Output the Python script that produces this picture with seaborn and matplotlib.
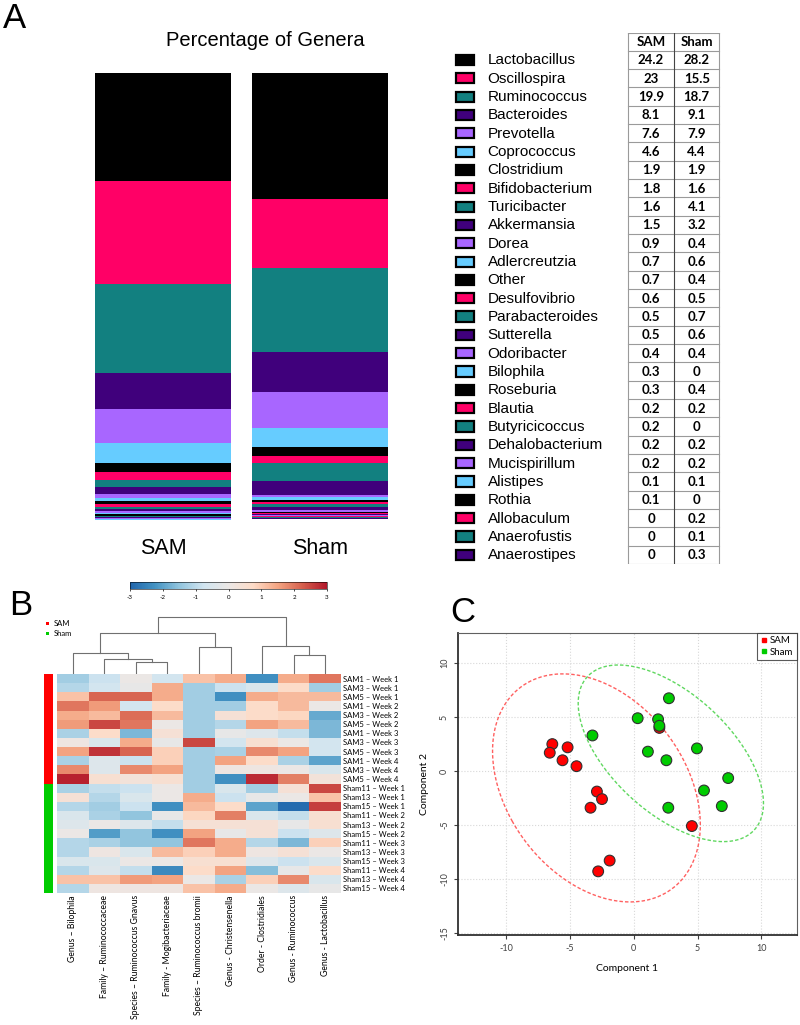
import numpy as np
import pandas as pd
import matplotlib
matplotlib.use("Agg")
import matplotlib.pyplot as plt
from matplotlib.patches import Rectangle
from matplotlib.colors import LinearSegmentedColormap
import seaborn as sns

# ---------------- Panel A data ----------------
genera = ["Lactobacillus", "Oscillospira", "Ruminococcus", "Bacteroides", "Prevotella",
          "Coprococcus", "Clostridium", "Bifidobacterium", "Turicibacter", "Akkermansia",
          "Dorea", "Adlercreutzia", "Other", "Desulfovibrio", "Parabacteroides",
          "Sutterella", "Odoribacter", "Bilophila", "Roseburia", "Blautia",
          "Butyricicoccus", "Dehalobacterium", "Mucispirillum", "Alistipes", "Rothia",
          "Allobaculum", "Anaerofustis", "Anaerostipes"]
sam_pct = [24.2, 23, 19.9, 8.1, 7.6, 4.6, 1.9, 1.8, 1.6, 1.5, 0.9, 0.7, 0.7, 0.6, 0.5,
           0.5, 0.4, 0.3, 0.3, 0.2, 0.2, 0.2, 0.2, 0.1, 0.1, 0, 0, 0]
sham_pct = [28.2, 15.5, 18.7, 9.1, 7.9, 4.4, 1.9, 1.6, 4.1, 3.2, 0.4, 0.6, 0.4, 0.5, 0.7,
            0.6, 0.4, 0, 0.4, 0.2, 0, 0.2, 0.2, 0.1, 0, 0.2, 0.1, 0.3]
groups = ["SAM", "Sham"]
genus_colors = ["#000000", "#FF0066", "#128080", "#40007C", "#A866FF", "#66CCFF"]

# ---------------- Panel B data ----------------
sample_names = ["SAM1 – Week 1", "SAM3 – Week 1", "SAM5 – Week 1",
                "SAM1 – Week 2", "SAM3 – Week 2", "SAM5 – Week 2",
                "SAM1 – Week 3", "SAM3 – Week 3", "SAM5 – Week 3",
                "SAM1 – Week 4", "SAM3 – Week 4", "SAM5 – Week 4",
                "Sham11 – Week 1", "Sham13 – Week 1", "Sham15 – Week 1",
                "Sham11 – Week 2", "Sham13 – Week 2", "Sham15 – Week 2",
                "Sham11 – Week 3", "Sham13 – Week 3", "Sham15 – Week 3",
                "Sham11 – Week 4", "Sham13 – Week 4", "Sham15 – Week 4"]
sample_group = ["SAM"] * 12 + ["Sham"] * 12
taxa = ["Genus – Bilophila", "Family – Ruminococcaceae", "Species – Ruminococcus Gnavus",
        "Family - Mogibacteriaceae", "Species – Ruminococcus bromii", "Genus - Christensenella",
        "Order - Clostridiales", "Genus - Ruminococcus", "Genus - Lactobacillus"]
z_scores = [
    [-1.3, -0.8, 0.0, -0.7, 1.1, 1.4, -2.3, 1.4, 2.0],
    [-1.1, -0.7, -0.1, 1.4, -1.3, -0.8, -0.5, 0.7, -1.3],
    [1.1, 2.2, 2.2, 1.4, -1.3, -2.3, 1.4, 1.2, 1.2],
    [2.0, 1.6, -0.7, 0.7, -1.3, -1.3, 0.7, 1.2, 0.0],
    [1.4, 1.2, 2.1, 1.2, -1.3, 0.4, 0.7, 0.8, -1.9],
    [1.6, 2.5, 2.0, 0.0, -1.3, -1.1, 1.5, 1.2, -1.7],
    [-1.2, 0.7, -1.7, 0.4, -1.3, -0.1, -0.4, -0.9, -1.7],
    [0.1, -0.5, 1.4, -0.1, 2.5, -0.7, 0.5, 0.0, -0.7],
    [1.5, 2.7, 2.2, 0.9, -1.3, -1.2, 1.8, 1.5, -0.7],
    [-1.2, -0.4, -0.8, 0.9, -1.3, 1.5, 0.7, -1.2, -2.0],
    [1.8, -0.4, 1.8, 1.5, -1.3, 0.1, 0.1, 0.0, -0.5],
    [2.9, 0.5, 0.3, 0.5, -1.3, -2.3, 2.8, 1.9, 0.3],
    [-1.2, -0.9, -0.8, 0.0, -1.3, -0.5, -1.3, 0.4, 2.5],
    [0.4, -1.1, -0.5, 0.0, 1.4, -0.8, -0.1, 0.0, 1.1],
    [-1.1, -1.3, -0.8, -2.3, 1.2, 0.7, -2.0, -2.9, 2.6],
    [-0.5, -1.2, -1.5, -0.1, 0.8, 1.9, -0.5, -0.9, 0.5],
    [-0.4, 0.0, -0.4, -0.9, 0.4, 0.4, 0.4, -0.1, 0.5],
    [0.0, -2.1, -1.5, -2.3, 1.5, -0.1, 0.4, -0.8, -0.4],
    [-1.1, -1.2, -1.5, -1.5, 2.0, 1.4, -1.1, -1.7, 0.9],
    [-1.1, 0.1, -0.5, 1.2, 0.9, 1.4, 0.1, 0.4, 0.0],
    [-0.5, -0.5, 0.0, 0.0, 0.5, 0.5, -0.4, -0.8, -0.5],
    [-1.1, -0.4, -0.9, -2.4, 0.7, 1.5, -1.6, -0.1, 0.7],
    [1.1, 1.1, 1.6, 1.5, 0.0, -1.2, 0.9, 1.8, -0.5],
    [-1.1, 0.1, 0.1, 0.1, 1.1, 1.4, 0.0, -0.4, -0.1],
]
# column dendrogram: (child a, child b, height); leaves 0-8, new nodes from 9
col_merges = [(2, 3, 10.7), (1, 9, 14.0), (0, 10, 20.0), (4, 5, 25.7),
              (11, 12, 40.7), (7, 8, 17.7), (6, 14, 27.3), (13, 15, 57.3)]
group_colors = {"SAM": "#FF0000", "Sham": "#00CC00"}
heat_colors = ["#2166ac", "#4393c3", "#92c5de", "#d1e5f0", "#ebe7e5",
               "#fddbc7", "#f4a582", "#d6604d", "#b2182b"]

# ---------------- Panel C data ----------------
sam_comp1 = [-6.4, -6.6, -5.2, -5.6, -4.5, -2.9, -2.5, -3.4, 2.0, 4.55, -1.9, -2.8]
sam_comp2 = [2.5, 1.7, 2.2, 1.0, 0.45, -1.9, -2.6, -3.4, 4.0, -5.1, -8.3, -9.3]
sham_comp1 = [-3.25, 0.3, 2.75, 1.9, 2.0, 1.1, 2.55, 4.95, 7.4, 5.5, 2.7, 6.9]
sham_comp2 = [3.3, 4.9, 6.75, 4.8, 4.2, 1.8, 1.0, 2.1, -0.65, -1.8, -3.4, -3.25]

W, H = 800, 1025


def box(x0, y0, x1, y1):
    return [x0 / W, 1 - y1 / H, (x1 - x0) / W, (y1 - y0) / H]


plt.rcParams["font.family"] = ["Liberation Sans", "DejaVu Sans"]
plt.rcParams["axes.unicode_minus"] = False
fig = plt.figure(figsize=(8, 10.25), dpi=100)
fig.patch.set_facecolor("white")

# ================= Panel A: stacked bars =================
axA = fig.add_axes(box(95, 73, 388, 520))
bottoms = np.zeros(2)
for i, g in enumerate(genera):
    vals = np.array([sam_pct[i], sham_pct[i]])
    axA.bar([0, 1], vals, bottom=bottoms, width=0.864, color=genus_colors[i % 6], linewidth=0)
    bottoms += vals
axA.set_xlim(-0.432, 1.432)
axA.set_ylim(100.1, 0)
axA.set_xticks([0, 1])
axA.set_xticklabels(groups, fontsize=15.5)
axA.tick_params(axis="x", length=0, pad=13)
axA.set_yticks([])
for s in axA.spines.values():
    s.set_visible(False)
fig.text(265 / W, 1 - 40 / H, "Percentage of Genera", fontsize=14.5, ha="center", va="center")
fig.text(3 / W, 1 - 2 / H, "A", fontsize=25, ha="left", va="top")

# legend + table
axT = fig.add_axes(box(450, 32.5, 725, 564.1))
axT.set_xlim(450, 725)
axT.set_ylim(len(genera) + 1, 0)
axT.axis("off")
for i, g in enumerate(genera):
    r = i + 1
    axT.add_patch(Rectangle((456, r + 0.22), 18, 0.56, facecolor=genus_colors[i % 6],
                            edgecolor="black", linewidth=1.6))
    axT.text(487.5, r + 0.52, g, fontsize=11, va="center", ha="left")
    axT.text(651, r + 0.52, f"{sam_pct[i]:g}", fontsize=9.5, va="center", ha="center",
             fontweight="bold", family=["Lato", "DejaVu Sans"])
    axT.text(696.7, r + 0.52, f"{sham_pct[i]:g}", fontsize=9.5, va="center", ha="center",
             fontweight="bold", family=["Lato", "DejaVu Sans"])
for j, g in enumerate(groups):
    axT.text([651, 696.7][j], 0.52, g, fontsize=9.5, va="center", ha="center",
             fontweight="bold", family=["Lato", "DejaVu Sans"])
for r in range(len(genera) + 2):
    axT.plot([628.3, 719.3], [r, r], color="#9a9a9a", lw=0.8)
for xv, c in [(628.3, "#9a9a9a"), (674, "#444444"), (719.3, "#9a9a9a")]:
    axT.plot([xv, xv], [0, len(genera) + 1], color=c, lw=0.8)

# ================= Panel B: heatmap =================
lato = ["Lato", "DejaVu Sans"]
cmap = LinearSegmentedColormap.from_list("rdbu9", heat_colors)
df_hm = pd.DataFrame(z_scores, index=sample_names, columns=taxa)
axH = fig.add_axes(box(57, 674, 341, 893))
axC = fig.add_axes(box(130, 582, 327, 589))
sns.heatmap(df_hm, ax=axH, cmap=cmap, vmin=-3, vmax=3, cbar_ax=axC,
            cbar_kws={"orientation": "horizontal", "ticks": [-3, -2, -1, 0, 1, 2, 3]},
            xticklabels=True, yticklabels=True)
axH.yaxis.tick_right()
axH.set_yticklabels(sample_names, rotation=0, fontsize=5.5, family=lato)
axH.set_xticklabels(taxa, rotation=90, fontsize=6.2, family=lato)
axH.tick_params(length=0, pad=1.5)
axH.set_xlabel("")
axH.set_ylabel("")
axC.tick_params(labelsize=4.5, length=1.5, width=0.5, pad=3)
for t in axC.get_xticklabels():
    t.set_family(lato)
axH.collections[0].colorbar.outline.set_linewidth(0.4)

# side colour bar
axS = fig.add_axes(box(44, 674, 53, 893))
for i, g in enumerate(sample_group):
    axS.add_patch(Rectangle((0, i), 1, 1, facecolor=group_colors[g], linewidth=0))
axS.set_xlim(0, 1)
axS.set_ylim(len(sample_group), 0)
axS.axis("off")

# column dendrogram
axD = fig.add_axes(box(57, 612, 341, 674))
pos = {k: k + 0.5 for k in range(len(taxa))}
hgt = {k: 0.0 for k in range(len(taxa))}
for n, (a, b, h) in enumerate(col_merges):
    node = len(taxa) + n
    axD.plot([pos[a], pos[a], pos[b], pos[b]], [hgt[a], h, h, hgt[b]], color="#707070", lw=0.8)
    pos[node] = (pos[a] + pos[b]) / 2
    hgt[node] = h
axD.set_xlim(0, len(taxa))
axD.set_ylim(-1.5, 62)
axD.axis("off")

# group legend
for k, g in enumerate(groups):
    fig.patches.append(Rectangle((45.5 / W, 1 - (625 + 10 * k) / H), 3 / W, 3 / H,
                                 facecolor=group_colors[g], transform=fig.transFigure))
    fig.text(54 / W, 1 - (623.5 + 10 * k) / H, g, fontsize=5.5, va="center", family=lato)
fig.text(9 / W, 1 - 589 / H, "B", fontsize=25, ha="left", va="top")

# ================= Panel C: PLS-DA scores =================
df_sc = pd.DataFrame({
    "comp1": sam_comp1 + sham_comp1,
    "comp2": sam_comp2 + sham_comp2,
    "group": ["SAM"] * len(sam_comp1) + ["Sham"] * len(sham_comp1),
})
axP = fig.add_axes(box(458, 633, 797, 935))
ell_colors = {"SAM": "#FF6060", "Sham": "#60D860"}
for g in groups:
    sub = df_sc[df_sc["group"] == g]
    x = sub["comp1"].to_numpy()
    y = sub["comp2"].to_numpy()
    vals, vecs = np.linalg.eigh(np.cov(x, y))
    t = np.linspace(0, 2 * np.pi, 300)
    circ = np.vstack([np.cos(t), np.sin(t)]) * np.sqrt(vals)[:, None] * 2.4477
    e = vecs @ circ
    axP.plot(e[0] + x.mean(), e[1] + y.mean(), ls=(0, (2.5, 1.5)), color=ell_colors[g], lw=1)
sns.scatterplot(data=df_sc, x="comp1", y="comp2", hue="group", palette=group_colors,
                s=60, edgecolor="#303030", linewidth=0.8, legend=False, ax=axP, zorder=3)
axP.set_xlim(-13.8, 12.8)
axP.set_ylim(-15.2, 12.8)
axP.set_xticks([-10, -5, 0, 5, 10])
axP.set_yticks([-15, -10, -5, 0, 5, 10])
axP.grid(True, ls=":", color="#d8d8d8", lw=0.8)
axP.set_axisbelow(True)
axP.set_xlabel("Component 1", fontsize=7.5, family=lato, labelpad=8)
axP.set_ylabel("Component 2", fontsize=7.5, family=lato, labelpad=8)
axP.tick_params(labelsize=6.5, length=3, width=0.8, color="#404040", labelcolor="#404040")
for tl in axP.get_yticklabels():
    tl.set_rotation(90)
    tl.set_va("center")
for tl in axP.get_xticklabels() + axP.get_yticklabels():
    tl.set_family(lato)
for side in ["left", "bottom"]:
    axP.spines[side].set_linewidth(1.3)
    axP.spines[side].set_color("#303030")
for side in ["top", "right"]:
    axP.spines[side].set_linewidth(0.8)
    axP.spines[side].set_color("#606060")
handles = [plt.Line2D([], [], marker="s", ls="", color=group_colors[g], markersize=3) for g in groups]
leg = axP.legend(handles, groups, loc="upper right", frameon=True, fancybox=False,
                 handletextpad=0.2, borderpad=0.35, labelspacing=0.25, handlelength=0.8,
                 borderaxespad=0.0, prop={"family": lato, "size": 7})
leg.get_frame().set_edgecolor("#303030")
leg.get_frame().set_linewidth(0.8)
fig.text(450 / W, 1 - 596 / H, "C", fontsize=25, ha="left", va="top")

fig.savefig("out.png", dpi=100)
